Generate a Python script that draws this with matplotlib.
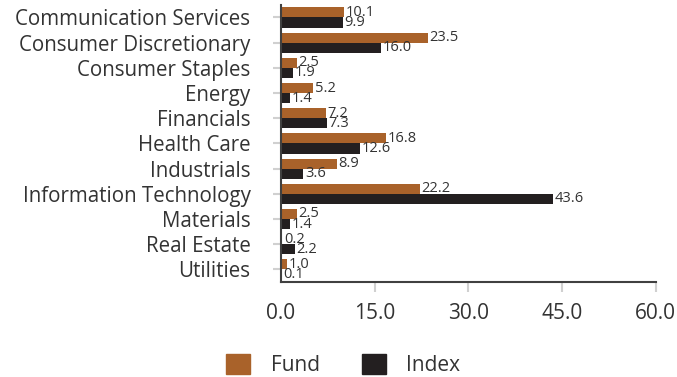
import numpy as np
import matplotlib.pyplot as plt
from matplotlib.patches import Patch

plt.rcParams['font.family'] = ['Open Sans', 'DejaVu Sans']

sectors = ["Communication Services", "Consumer Discretionary", "Consumer Staples",
           "Energy", "Financials", "Health Care", "Industrials",
           "Information Technology", "Materials", "Real Estate", "Utilities"]
fund = [10.1, 23.5, 2.5, 5.2, 7.2, 16.8, 8.9, 22.2, 2.5, 0.2, 1.0]
index = [9.9, 16.0, 1.9, 1.4, 7.3, 12.6, 3.6, 43.6, 1.4, 2.2, 0.1]
xticks = [0, 15, 30, 45, 60]

fund_color = "#A9622A"
index_color = "#231F20"
text_color = "#333333"

fig = plt.figure(figsize=(6.77, 3.77), dpi=100)
ax = fig.add_axes([0.415, 0.252, 0.5535, 0.735])

y = np.arange(len(sectors))
h = 0.4
ax.barh(y - h / 2, fund, height=h, color=fund_color)
ax.barh(y + h / 2, index, height=h, color=index_color)

for yi, v in zip(y, fund):
    ax.text(v + 0.3, yi - h / 2, f"{v:.1f}", va="center", ha="left",
            fontsize=10.5, color=text_color)
for yi, v in zip(y, index):
    ax.text(v + 0.3, yi + h / 2, f"{v:.1f}", va="center", ha="left",
            fontsize=10.5, color=text_color)

ax.set_ylim(len(sectors) - 0.5, -0.5)
ax.set_xlim(0, 60)
ax.set_yticks(y)
ax.set_yticklabels(sectors, fontsize=14.8, color=text_color)
ax.set_xticks(xticks)
ax.set_xticklabels([f"{t:.1f}" for t in xticks], fontsize=15, color=text_color)

for s in ["top", "right"]:
    ax.spines[s].set_visible(False)
for s in ["left", "bottom"]:
    ax.spines[s].set_color("#404040")
    ax.spines[s].set_linewidth(1.5)

ax.tick_params(axis="y", length=6, width=1.5, color="#d0d0d0", pad=16)
ax.tick_params(axis="x", length=7, width=1.5, color="#d0d0d0", pad=8)
ax.xaxis.get_major_ticks()[0].tick1line.set_visible(False)

handles = [Patch(color=fund_color, label="Fund"), Patch(color=index_color, label="Index")]
fig.legend(handles=handles, loc="center", bbox_to_anchor=(0.507, 0.032), ncol=2,
           frameon=False, fontsize=15, handlelength=1.15, handleheight=1.15,
           handletextpad=1.0, columnspacing=2.0, labelcolor=text_color)

fig.savefig("out.png", dpi=100)
